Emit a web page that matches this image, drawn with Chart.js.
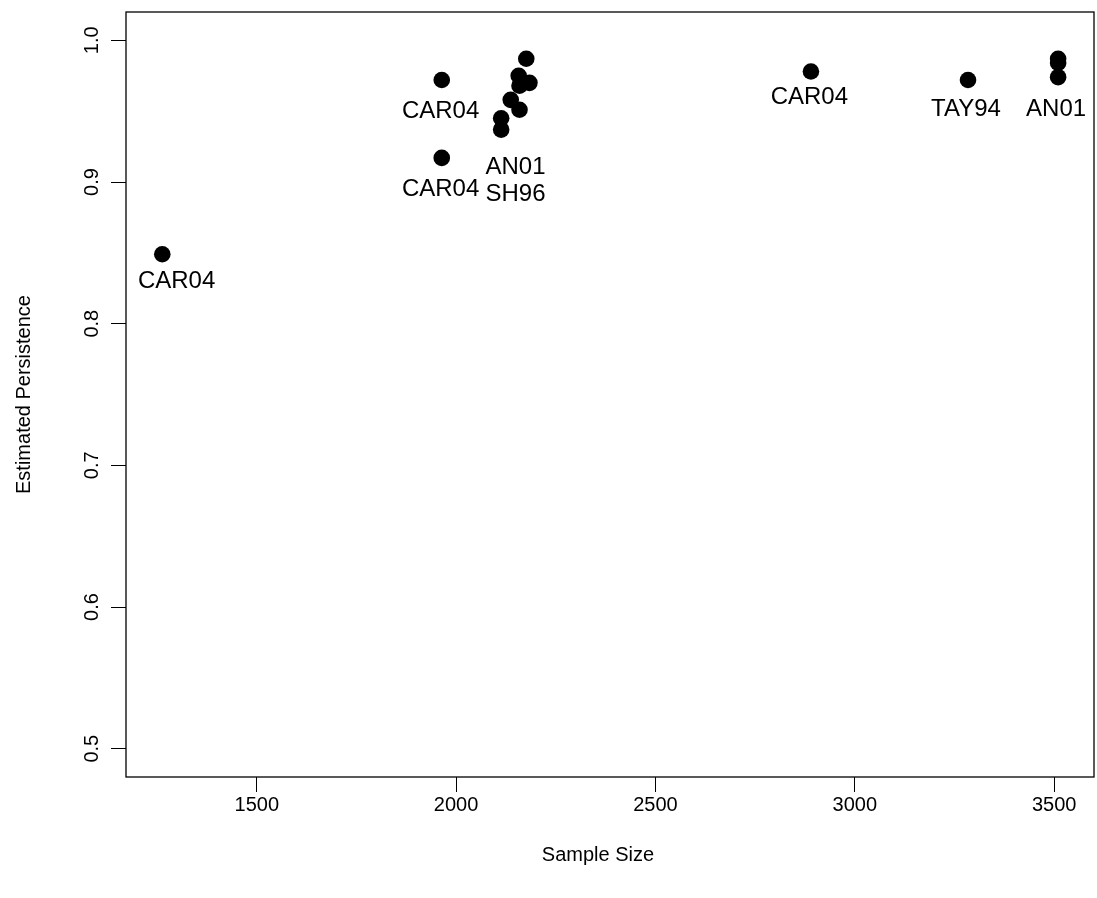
<!DOCTYPE html>
<html>
<head>
<meta charset="utf-8">
<script src="https://cdn.jsdelivr.net/npm/chart.js@4.4.1/dist/chart.umd.min.js"></script>
<style>
  html, body { margin: 0; padding: 0; background: #fff; }
  #wrap { width: 1097px; height: 898px; }
</style>
</head>
<body>
<div id="wrap"><canvas id="c" width="1097" height="898"></canvas></div>
<script>
// ---- data ----
const sampleSize = [1263, 1964, 1964, 2890, 3284, 2176, 2157, 2184, 2159, 2137, 2159, 2113, 2113, 3510, 3510, 3510];
const persistence = [0.849, 0.972, 0.917, 0.978, 0.972, 0.987, 0.975, 0.970, 0.968, 0.958, 0.951, 0.945, 0.937, 0.987, 0.984, 0.974];

const labelText = ["CAR04", "CAR04", "CAR04", "AN01", "SH96", "CAR04", "TAY94", "AN01"];
const labelX    = [1299, 1961, 1961, 2149, 2149, 2886, 3279, 3505];
const labelY    = [0.830, 0.950, 0.895, 0.910, 0.891, 0.960, 0.951, 0.951];

const xTicks = [1500, 2000, 2500, 3000, 3500];
const yTicks = [0.5, 0.6, 0.7, 0.8, 0.9, 1.0];
const xTitle = "Sample Size";
const yTitle = "Estimated Persistence";

const FONT = "'Liberation Sans', Arial, Helvetica, sans-serif";

const boxPlugin = {
  id: 'box',
  afterDraw(chart) {
    const {ctx, chartArea: a} = chart;
    ctx.save();
    ctx.strokeStyle = '#000';
    ctx.lineWidth = 1.3;
    ctx.strokeRect(a.left, a.top, a.right - a.left, a.bottom - a.top);
    ctx.restore();
  }
};

// the reference's x-axis title sits slightly left of the plot centre
const titleShiftPlugin = {
  id: 'titleShift',
  afterUpdate(chart) {
    const s = chart.scales.x;
    if (s && !s._shiftWrapped) {
      const orig = s.drawTitle.bind(s);
      s.drawTitle = function () {
        this.ctx.save();
        this.ctx.translate(-12, 0);
        orig();
        this.ctx.restore();
      };
      s._shiftWrapped = true;
    }
  }
};

const labelPlugin = {
  id: 'pointLabels',
  afterDatasetsDraw(chart) {
    const {ctx, scales: {x, y}} = chart;
    ctx.save();
    ctx.fillStyle = '#000';
    ctx.font = "24px " + FONT;
    ctx.textAlign = 'center';
    ctx.textBaseline = 'middle';
    labelText.forEach((t, i) => {
      ctx.fillText(t, x.getPixelForValue(labelX[i]), y.getPixelForValue(labelY[i]));
    });
    ctx.restore();
  }
};

Chart.defaults.color = '#000';
Chart.defaults.font.family = FONT;
Chart.defaults.font.size = 20;

new Chart(document.getElementById('c'), {
  type: 'scatter',
  data: {
    datasets: [{
      data: sampleSize.map((v, i) => ({x: v, y: persistence[i]})),
      backgroundColor: '#000',
      borderWidth: 0,
      pointRadius: 8.3,
      pointHoverRadius: 8.3
    }]
  },
  options: {
    responsive: false,
    animation: false,
    devicePixelRatio: 1,
    layout: { autoPadding: false, padding: { top: 12, right: 3, left: 0, bottom: 0 } },
    plugins: { legend: { display: false }, tooltip: { enabled: false } },
    scales: {
      x: {
        type: 'linear',
        min: 1172, max: 3600,
        afterBuildTicks: s => { s.ticks = xTicks.map(v => ({value: v})); },
        afterFit: s => { s.height = 121; s.paddingLeft = 0; s.paddingRight = 0; },
        grid: { drawOnChartArea: false, drawTicks: true, tickLength: 15, color: '#000', lineWidth: 1 },
        border: { display: false },
        ticks: { padding: 1, maxRotation: 0, font: { size: 20 }, callback: v => String(v) },
        title: { display: true, text: xTitle, font: { size: 20 }, padding: { top: 0, bottom: 31 } }
      },
      y: {
        type: 'linear',
        min: 0.48, max: 1.02,
        afterBuildTicks: s => { s.ticks = yTicks.map(v => ({value: v})); },
        afterFit: s => { s.width = 126; s.paddingTop = 0; s.paddingBottom = 0; },
        grid: { drawOnChartArea: false, drawTicks: true, tickLength: 15, color: '#000', lineWidth: 1 },
        border: { display: false },
        ticks: { padding: 5, minRotation: 90, maxRotation: 90, crossAlign: 'center', font: { size: 20 }, callback: v => v.toFixed(1) },
        title: { display: true, text: yTitle, font: { size: 20 }, padding: { top: 12, bottom: 0 } }
      }
    }
  },
  plugins: [boxPlugin, titleShiftPlugin, labelPlugin]
});
</script>
</body>
</html>
